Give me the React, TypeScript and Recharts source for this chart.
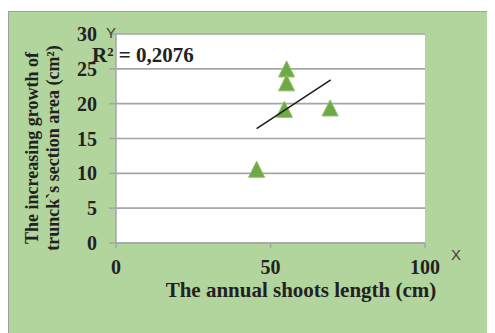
import { ScatterChart, Scatter, XAxis, YAxis, CartesianGrid } from 'recharts'

// annual shoots length (cm) vs. increasing growth of trunk section area (cm²)
const shootLength = [55.2, 55.2, 54.5, 69.3, 45.5]
const growthArea = [24.6, 22.6, 18.8, 19.0, 10.2]

// linear trend line end points
const trendX = [45.5, 69.5]
const trendY = [16.4, 23.4]

const xTicks = [0, 50, 100]
const yTicks = [0, 5, 10, 15, 20, 25, 30]

const points = shootLength.map((x, i) => ({ x, y: growthArea[i] }))
const trend = trendX.map((x, i) => ({ x, y: trendY[i] }))

const serif = '"Liberation Serif", "Times New Roman", serif'
const sans = '"Liberation Sans", Arial, sans-serif'
const gridGray = '#a6a6a6'
const textColor = '#222'

// triangle marker, 16px wide and 16px high, centred on its centroid
const Triangle = (props: any) => {
  const { cx, cy } = props
  if (cx == null || cy == null) return <g />
  const pts = `${cx},${cy - 10.7} ${cx - 8},${cy + 5.3} ${cx + 8},${cy + 5.3}`
  return <polygon points={pts} fill="#6fa844" stroke="#88c163" strokeWidth={1} />
}

export default function App() {
  const W = 486
  const H = 321

  return (
    <div
      style={{
        position: 'relative',
        marginTop: 3,
        width: W,
        height: H,
        background: '#b2d59d',
        borderTop: '1px solid #a0a0a0',
        borderLeft: '1px solid #a0a0a0',
      }}
    >
      <ScatterChart width={W} height={H} margin={{ top: 22, right: 70, bottom: 60, left: 67 }}>
        <CartesianGrid vertical={false} fill="#fff" stroke={gridGray} strokeWidth={1.6} />
        <XAxis
          type="number"
          dataKey="x"
          domain={[0, 100]}
          ticks={xTicks}
          height={30}
          stroke={gridGray}
          strokeWidth={1.5}
          tickSize={5}
          tickMargin={12}
          tick={{ fill: textColor, fontFamily: serif, fontSize: 20, fontWeight: 'bold' }}
        />
        <YAxis
          type="number"
          dataKey="y"
          domain={[0, 30]}
          ticks={yTicks}
          width={40}
          stroke={gridGray}
          strokeWidth={1.5}
          tickSize={7}
          tickMargin={12}
          tick={{ fill: textColor, fontFamily: serif, fontSize: 20, fontWeight: 'bold' }}
        />
        <Scatter data={points} shape={Triangle} isAnimationActive={false} />
        <Scatter
          data={trend}
          line={{ stroke: '#1a1a1a', strokeWidth: 1.5 }}
          shape={() => <g />}
          isAnimationActive={false}
        />
      </ScatterChart>

      {/* titles and labels */}
      <svg
        width={W}
        height={H}
        style={{ position: 'absolute', left: 0, top: 0, pointerEvents: 'none' }}
      >
        <text x={102} y={26} textAnchor="middle" fontFamily={sans} fontSize={15} fill="#404040">
          Y
        </text>
        <text x={447} y={248} textAnchor="middle" fontFamily={sans} fontSize={15} fill="#404040">
          X
        </text>
        <text x={83} y={50} fontFamily={serif} fontSize={21} fontWeight="bold" fill={textColor}>
          R² = 0,2076
        </text>
        <text x={292} y={285} textAnchor="middle" fontFamily={serif} fontSize={21} fontWeight="bold" fill={textColor}>
          The annual shoots length (cm)
        </text>
        <text
          transform="translate(29,136) rotate(-90)"
          textAnchor="middle"
          fontFamily={serif}
          fontSize={18}
          fontWeight="bold"
          fill={textColor}
        >
          The increasing growth of
        </text>
        <text
          transform="translate(50,136) rotate(-90)"
          textAnchor="middle"
          fontFamily={serif}
          fontSize={18}
          fontWeight="bold"
          fill={textColor}
        >
          trunck`s section area (cm²)
        </text>
      </svg>
    </div>
  )
}
